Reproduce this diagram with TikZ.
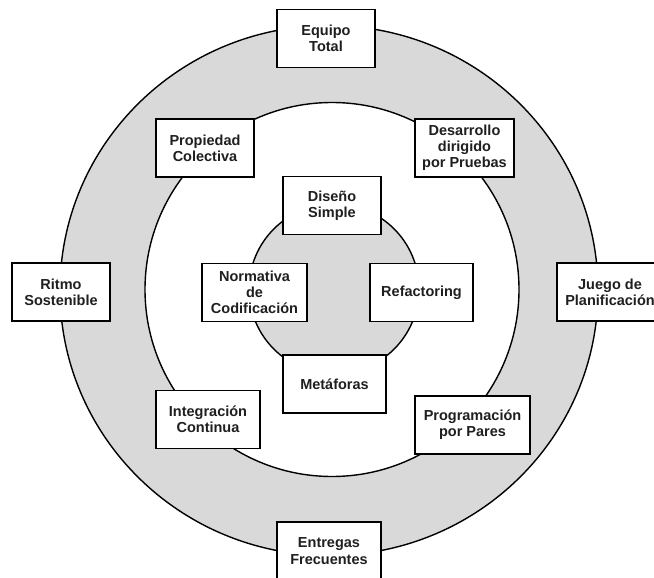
\documentclass[tikz,border=0pt]{standalone}
\usepackage{fontspec}
\setmainfont{Liberation Sans}
\usepackage{xcolor}
\usepackage{tikz}
\usetikzlibrary{positioning}

\begin{document}
\begin{tikzpicture}[x=1pt, y=-1pt,
    practica/.style={draw, line width=1.6pt, fill=white, align=center,
        inner sep=2pt, minimum width=98pt, minimum height=58pt,
        font=\bfseries\fontsize{14.5}{16.2}\selectfont, text=black!88}]
    % Color gris de los anillos
    \definecolor{anillo}{RGB}{217, 217, 217}
    \clip (0,0) rectangle (654,578);

    % 1. Anillos concéntricos
    \draw[line width=1.4pt, fill=anillo] (329,290.5) ellipse [x radius=269, y radius=265];
    \draw[line width=1.4pt, fill=white] (332,289.5) circle [radius=187];
    \draw[line width=1.4pt, fill=anillo] (334,289) circle [radius=85];

    % 2. Prácticas del anillo exterior
    \node[practica] (equipo) at (326,38.5) {Equipo\\Total};
    \node[practica] (ritmo) at (61,292) {Ritmo\\Sostenible};
    \node[practica, minimum width=106pt] (juego) at (610,292) {Juego de\\Planificación};
    \node[practica, minimum width=104pt] (entregas) at (329,551) {Entregas\\Frecuentes};

    % 3. Prácticas del anillo medio
    \node[practica] (propiedad) at (205,148) {Propiedad\\Colectiva};
    \node[practica, minimum width=99pt] (desarrollo) at (464.5,148) {Desarrollo\\dirigido\\por Pruebas};
    \node[practica, minimum width=104pt] (integracion) at (208,419.5) {Integración\\Continua};
    \node[practica, minimum width=115pt] (programacion) at (472.5,425) {Programación\\por Pares};

    % 4. Prácticas del círculo central
    \node[practica] (diseno) at (332,205.5) {Diseño\\Simple};
    \node[practica, minimum width=105pt] (normativa) at (254.5,292.5) {Normativa\\de\\Codificación};
    \node[practica, minimum width=103pt] (refactoring) at (421.5,292.5) {Refactoring};
    \node[practica, minimum width=103pt] (metaforas) at (334.5,384) {Metáforas};
\end{tikzpicture}
\end{document}
